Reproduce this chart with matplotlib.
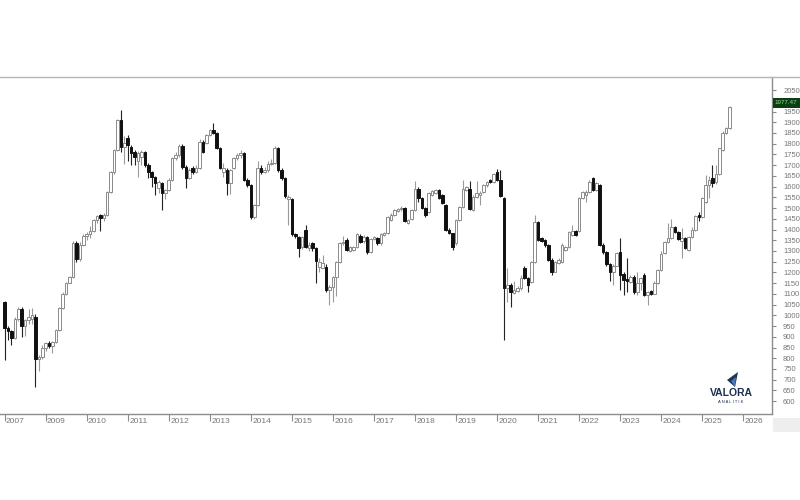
import numpy as np
import matplotlib.pyplot as plt
from matplotlib.lines import Line2D
from matplotlib.patches import Polygon, Rectangle

plt.rcParams['font.family'] = ['Liberation Sans', 'DejaVu Sans']

# monthly candles, Jan 2008 onwards
opens = [
    1060, 940, 925, 895, 985, 1030, 950, 978, 985, 990, 795, 805,          # 2008
    850, 870, 858, 876, 930, 1034, 1100, 1150, 1180, 1335, 1262, 1330,     # 2009
    1372, 1380, 1395, 1445, 1468, 1455, 1468, 1575, 1668, 1771, 1911, 1785,  # 2010
    1825, 1786, 1763, 1720, 1740, 1763, 1701, 1670, 1646, 1592, 1615, 1569,  # 2011
    1584, 1631, 1732, 1747, 1790, 1690, 1640, 1685, 1670, 1685, 1810, 1805,  # 2012
    1841, 1866, 1849, 1779, 1670, 1678, 1615, 1685, 1732, 1747, 1755, 1631,  # 2013
    1608, 1460, 1515, 1686, 1670, 1678, 1705, 1709, 1780, 1678, 1640, 1540,  # 2014
    1540, 1380, 1367, 1320, 1398, 1315, 1336, 1315, 1227, 1220, 1227, 1118,  # 2015
    1134, 1180, 1250, 1336, 1350, 1300, 1305, 1320, 1370, 1345, 1367, 1295,  # 2016
    1355, 1360, 1336, 1375, 1382, 1445, 1470, 1485, 1495, 1500, 1430, 1450,  # 2017
    1490, 1590, 1545, 1500, 1480, 1560, 1570, 1584, 1560, 1515, 1400, 1382,  # 2018
    1336, 1445, 1507, 1584, 1590, 1491, 1553, 1560, 1577, 1608, 1630, 1623,  # 2019
    1670, 1632, 1546, 1126, 1142, 1105, 1115, 1126, 1219, 1173, 1157, 1250,  # 2020
    1437, 1360, 1350, 1328, 1260, 1204, 1245, 1250, 1305, 1320, 1375, 1395,  # 2021
    1395, 1546, 1560, 1577, 1639, 1585, 1608, 1328, 1297, 1240, 1200, 1232,  # 2022
    1297, 1192, 1170, 1157, 1180, 1110, 1150, 1188, 1095, 1115, 1100, 1150,  # 2023
    1210, 1290, 1340, 1362, 1410, 1390, 1345, 1360, 1305, 1365, 1400,        # 2024
    1470, 1460, 1530, 1608, 1640, 1620, 1660, 1770, 1850, 1872,              # 2025
]
highs = [
    1068, 950, 930, 990, 1040, 1040, 985, 1030, 1035, 1005, 815, 860,
    875, 878, 880, 935, 1040, 1110, 1155, 1185, 1345, 1345, 1340, 1380,
    1390, 1415, 1450, 1470, 1472, 1475, 1580, 1672, 1775, 1915, 1957, 1835,
    1840, 1795, 1770, 1765, 1770, 1768, 1710, 1675, 1650, 1630, 1620, 1590,
    1640, 1740, 1760, 1800, 1800, 1700, 1685, 1695, 1700, 1820, 1815, 1845,
    1868, 1895, 1855, 1785, 1710, 1685, 1680, 1740, 1755, 1770, 1760, 1640,
    1612, 1520, 1720, 1700, 1690, 1720, 1730, 1790, 1786, 1685, 1645, 1560,
    1545, 1385, 1372, 1372, 1420, 1340, 1340, 1320, 1265, 1280, 1240, 1140,
    1185, 1255, 1340, 1370, 1360, 1325, 1325, 1385, 1380, 1375, 1372, 1360,
    1370, 1365, 1385, 1390, 1465, 1475, 1495, 1500, 1510, 1505, 1450, 1495,
    1625, 1600, 1550, 1505, 1575, 1585, 1590, 1590, 1565, 1520, 1405, 1385,
    1450, 1510, 1631, 1605, 1625, 1560, 1625, 1580, 1612, 1628, 1635, 1665,
    1680, 1678, 1550, 1219, 1150, 1160, 1135, 1190, 1230, 1180, 1255, 1468,
    1440, 1365, 1355, 1332, 1265, 1255, 1265, 1335, 1325, 1395, 1420, 1400,
    1550, 1580, 1582, 1630, 1645, 1620, 1612, 1335, 1300, 1245, 1240, 1295,
    1360, 1200, 1266, 1190, 1190, 1200, 1180, 1195, 1115, 1120, 1160, 1215,
    1300, 1345, 1430, 1450, 1415, 1395, 1406, 1365, 1370, 1410, 1470,
    1480, 1550, 1654, 1650, 1700, 1701, 1780, 1860, 1880, 1975,
]
lows = [
    790, 885, 862, 890, 975, 900, 905, 960, 960, 665, 740, 795,
    835, 850, 825, 870, 925, 1030, 1095, 1150, 1175, 1250, 1255, 1325,
    1350, 1360, 1390, 1430, 1395, 1440, 1465, 1570, 1660, 1765, 1760, 1705,
    1720, 1700, 1700, 1646, 1700, 1690, 1640, 1600, 1560, 1570, 1491, 1540,
    1580, 1625, 1725, 1740, 1680, 1592, 1635, 1660, 1665, 1680, 1755, 1800,
    1835, 1845, 1775, 1680, 1646, 1561, 1565, 1680, 1725, 1735, 1625, 1600,
    1450, 1450, 1510, 1660, 1665, 1670, 1700, 1705, 1670, 1630, 1545, 1420,
    1370, 1360, 1270, 1310, 1315, 1300, 1300, 1150, 1200, 1220, 1110, 1048,
    1060, 1090, 1245, 1330, 1300, 1295, 1300, 1315, 1335, 1335, 1285, 1290,
    1350, 1330, 1330, 1370, 1378, 1440, 1465, 1480, 1488, 1435, 1425, 1445,
    1485, 1530, 1495, 1460, 1475, 1555, 1565, 1540, 1520, 1395, 1378, 1305,
    1330, 1440, 1500, 1580, 1490, 1485, 1548, 1514, 1572, 1600, 1618, 1618,
    1625, 1550, 885, 1064, 1040, 1100, 1110, 1120, 1170, 1110, 1150, 1245,
    1345, 1340, 1320, 1255, 1190, 1200, 1240, 1245, 1300, 1315, 1370, 1370,
    1390, 1540, 1530, 1572, 1580, 1580, 1325, 1285, 1230, 1160, 1140, 1228,
    1120, 1095, 1110, 1150, 1100, 1095, 1120, 1090, 1048, 1095, 1098, 1148,
    1205, 1285, 1335, 1355, 1385, 1350, 1266, 1310, 1300, 1360, 1395,
    1440, 1455, 1525, 1547, 1600, 1610, 1655, 1765, 1845, 1868,
]
closes = [
    940, 925, 895, 985, 1030, 950, 978, 994, 1000, 795, 805, 850,
    870, 858, 875, 930, 1034, 1100, 1150, 1178, 1335, 1262, 1330, 1372,
    1380, 1395, 1445, 1462, 1455, 1468, 1575, 1668, 1771, 1911, 1785, 1805,
    1794, 1755, 1740, 1755, 1760, 1701, 1670, 1646, 1615, 1620, 1569, 1584,
    1631, 1732, 1747, 1790, 1690, 1640, 1678, 1670, 1685, 1810, 1763, 1841,
    1864, 1849, 1779, 1685, 1685, 1615, 1678, 1732, 1747, 1755, 1631, 1608,
    1460, 1515, 1686, 1670, 1678, 1705, 1709, 1780, 1678, 1640, 1555, 1552,
    1380, 1370, 1315, 1367, 1320, 1330, 1315, 1255, 1250, 1243, 1118, 1134,
    1180, 1250, 1336, 1344, 1305, 1320, 1320, 1380, 1340, 1365, 1295, 1355,
    1365, 1336, 1378, 1382, 1460, 1470, 1490, 1495, 1500, 1440, 1445, 1490,
    1590, 1545, 1500, 1470, 1570, 1580, 1584, 1545, 1525, 1400, 1382, 1320,
    1445, 1507, 1590, 1600, 1495, 1553, 1569, 1570, 1608, 1623, 1623, 1660,
    1632, 1555, 1126, 1142, 1110, 1118, 1126, 1173, 1173, 1142, 1250, 1437,
    1350, 1345, 1328, 1260, 1204, 1250, 1260, 1328, 1320, 1390, 1395, 1375,
    1546, 1577, 1575, 1623, 1585, 1615, 1328, 1297, 1240, 1200, 1232, 1290,
    1190, 1165, 1160, 1180, 1110, 1150, 1172, 1095, 1110, 1100, 1150, 1210,
    1288, 1340, 1362, 1410, 1390, 1355, 1360, 1312, 1365, 1400, 1462,
    1458, 1546, 1608, 1630, 1615, 1660, 1779, 1850, 1875, 1970,
]

year_ticks = list(range(2008, 2027))
year_labels = ["2007"] + [str(y) for y in range(2009, 2027)]
price_ticks = list(range(600, 2051, 50))
hidden_price = 2000   # covered by the last-price box in the source
last_price = "1977.47"

o = np.array(opens, dtype=float)
h = np.array(highs, dtype=float)
l = np.array(lows, dtype=float)
c = np.array(closes, dtype=float)
idx = np.arange(len(c))
up = c >= o

fig = plt.figure(figsize=(8, 5), dpi=100)
ax = fig.add_axes([0, 86 / 500, 772 / 800, 337 / 500])
ax.set_xlim(-1.35, 224.4)
ax.set_ylim(540, 2111)

# wicks
ax.vlines(idx[up], l[up], h[up], color='#9a9a9a', lw=0.8, zorder=2)
ax.vlines(idx[~up], l[~up], h[~up], color='#222222', lw=0.8, zorder=2)

# bodies
body_low = np.minimum(o, c)
body_h = np.maximum(np.abs(c - o), 4)
ax.bar(idx[up], body_h[up], bottom=body_low[up], width=0.75,
       color='white', edgecolor='#8a8a8a', linewidth=0.7, zorder=3)
ax.bar(idx[~up], body_h[~up], bottom=body_low[~up], width=0.75,
       color='#111111', edgecolor='#111111', linewidth=0.7, zorder=3)

# axes look
for s in ['top', 'left']:
    ax.spines[s].set_visible(False)
for s in ['right', 'bottom']:
    ax.spines[s].set_color('#8c8c8c')
    ax.spines[s].set_linewidth(1.0)

ax.yaxis.tick_right()
ax.set_yticks(price_ticks)
ax.set_yticklabels(['' if p == hidden_price else str(p) for p in price_ticks])
ax.tick_params(axis='y', length=3, pad=5, labelsize=5.5, colors='#8a8a8a',
               labelcolor='#777777')

xpos = [(y - 2008) * 12 for y in year_ticks]
ax.set_xticks(xpos)
ax.set_xticklabels([])
ax.tick_params(axis='x', length=5, width=0.8, colors='#8c8c8c')
for p, lab in zip(xpos, year_labels):
    ax.text(p + 0.4, -0.022, lab, transform=ax.get_xaxis_transform(),
            ha='left', va='center', fontsize=6, color='#777777')

# top frame line across the whole width
fig.add_artist(Line2D([0, 1], [1 - 77 / 500, 1 - 77 / 500],
                      color='#b5b5b5', lw=1.0))
# light strip under the price axis
fig.add_artist(Rectangle((773 / 800, 1 - 432 / 500), 27 / 800, 14 / 500,
                         transform=fig.transFigure, color='#eeeeee', lw=0))

# last price box
fig.text(786 / 800, 1 - 103 / 500, last_price, ha='center', va='center',
         fontsize=4.5, color='#8fe08f', zorder=10,
         bbox=dict(boxstyle='square,pad=0.35', fc='#0d3d14', ec='none'))

# Valora Analitik logo
def fp(x, y):
    return (x / 800, 1 - y / 500)

fig.add_artist(Polygon([fp(727, 380), fp(738, 372), fp(735, 387)],
                       closed=True, transform=fig.transFigure,
                       color='#1d3557', lw=0))
fig.add_artist(Polygon([fp(731, 381), fp(736, 377), fp(735, 387)],
                       closed=True, transform=fig.transFigure,
                       color='#4a78b8', lw=0))
fig.text(731 / 800, 1 - 393 / 500, "VALORA", ha='center', va='center',
         fontsize=7.5, fontweight='bold', color='#1d2f4f')
fig.text(731 / 800, 1 - 402 / 500, "A N A L I T I K", ha='center',
         va='center', fontsize=3, color='#1d2f4f')

fig.savefig("out.png", dpi=100, facecolor='white')
